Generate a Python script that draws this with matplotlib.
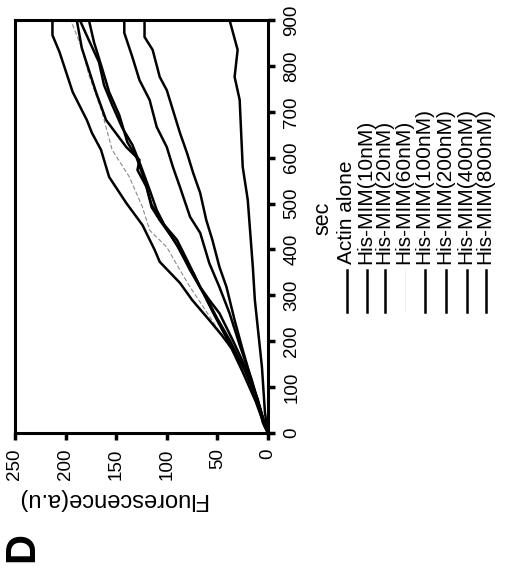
import matplotlib
matplotlib.use("Agg")
import matplotlib.pyplot as plt
from matplotlib.lines import Line2D

plt.rcParams['font.family'] = ['Liberation Sans', 'DejaVu Sans']

# ---- data (sec, fluorescence a.u.) ----
actin_sec = [0, 44, 144, 290, 362, 508, 580, 726, 776, 835, 900]
actin_flu = [0, 3, 6, 13, 15, 20, 25, 28, 33, 30, 38]

mim10_sec = [0, 39, 105, 181, 246, 318, 362, 421, 464, 523, 567, 610, 654, 704, 747, 776, 835, 863, 900]
mim10_flu = [0, 6, 15, 25, 33, 41, 48, 55, 61, 67, 74, 80, 87, 94, 100, 107, 114, 122, 122]

mim20_sec = [0, 39, 115, 192, 261, 318, 370, 436, 471, 536, 580, 623, 667, 726, 769, 819, 872, 900]
mim20_flu = [0, 6, 16, 28, 38, 48, 58, 67, 77, 87, 94, 100, 110, 117, 127, 134, 142, 142]

mim60_sec = [0, 28, 83, 155, 214, 275, 318, 355, 405, 442, 492, 558, 617, 699, 780, 839, 889, 900]
mim60_flu = [0, 5, 13, 28, 46, 64, 77, 87, 100, 117, 124, 137, 154, 164, 177, 184, 193, 195]

mim100_sec = [0, 17, 72, 137, 203, 261, 290, 318, 377, 421, 460, 497, 551, 601, 634, 693, 743, 795, 852, 900]
mim100_flu = [0, 3, 10, 21, 35, 48, 58, 67, 80, 90, 105, 115, 122, 130, 139, 147, 157, 164, 172, 177]

mim200_sec = [0, 13, 68, 133, 203, 257, 305, 355, 410, 447, 486, 530, 584, 628, 665, 715, 758, 808, 856, 900]
mim200_flu = [0, 3, 12, 25, 40, 53, 64, 77, 90, 101, 110, 117, 126, 134, 144, 154, 162, 167, 177, 186]

mim400_sec = [0, 17, 72, 137, 203, 253, 283, 318, 349, 399, 427, 464, 492, 536, 573, 595, 623, 682, 743, 839, 900]
mim400_flu = [0, 3, 11, 23, 38, 51, 58, 67, 74, 87, 95, 107, 115, 120, 129, 127, 140, 160, 170, 184, 189]

mim800_sec = [0, 22, 78, 131, 176, 214, 246, 290, 327, 373, 399, 453, 501, 558, 617, 654, 682, 743, 830, 867, 900]
mim800_flu = [0, 5, 11, 21, 33, 46, 58, 75, 87, 107, 112, 124, 140, 157, 165, 174, 179, 193, 206, 213, 213]

labels = ["Actin alone", "His-MIM(10nM)", "His-MIM(20nM)", "His-MIM(60nM)",
          "His-MIM(100nM)", "His-MIM(200nM)", "His-MIM(400nM)", "His-MIM(800nM)"]
sec_ticks = [0, 100, 200, 300, 400, 500, 600, 700, 800, 900]
flu_ticks = [0, 50, 100, 150, 200, 250]

series = [(actin_flu, actin_sec), (mim10_flu, mim10_sec), (mim20_flu, mim20_sec),
          (mim60_flu, mim60_sec), (mim100_flu, mim100_sec), (mim200_flu, mim200_sec),
          (mim400_flu, mim400_sec), (mim800_flu, mim800_sec)]

W, H = 506, 571
fig = plt.figure(figsize=(W / 100, H / 100), dpi=100)

def fx(px):
    return px / W

def fy(py):
    return 1 - py / H

ax = fig.add_axes([fx(15), fy(433), fx(268) - fx(15), fy(20) - fy(433)])

styles = []
for i in range(8):
    if i == 3:
        styles.append(dict(color='#8a8a8a', lw=0.8, ls=(0, (4, 2))))
    else:
        styles.append(dict(color='black', lw=1.8, ls='-'))

for (fl, sc), st in zip(series, styles):
    ax.plot(fl, sc, **st)

ax.set_xlim(250, 0)
ax.set_ylim(0, 900)
ax.set_xticks(flu_ticks)
ax.set_yticks(sec_ticks)
ax.yaxis.tick_right()
for s in ax.spines.values():
    s.set_linewidth(2.2)
ax.tick_params(axis='both', direction='out', length=5, width=2.5, labelsize=13.5, pad=6)
ax.tick_params(axis='x', labelrotation=90)
ax.tick_params(axis='y', labelrotation=90)
for lab in ax.get_yticklabels():
    lab.set_va('center')

# axis labels
fig.text(fx(323), fy(218), "sec", rotation=90, ha='center', va='center', fontsize=15.5)
fig.text(fx(112), fy(499), "Fluorescence(a.u)", rotation=180, ha='center', va='center', fontsize=17)
fig.text(fx(22), fy(547), "D", rotation=90, ha='center', va='center', fontsize=30, fontweight='bold')

# legend (rotated)
leg_x = [347, 367, 385, 405, 425, 446, 467, 486]
for i, (lx, lab) in enumerate(zip(leg_x, labels)):
    if i == 3:
        fig.add_artist(Line2D([fx(lx), fx(lx)], [fy(312), fy(270)], color='#e8e8e8', lw=0.5,
                              transform=fig.transFigure))
    else:
        fig.add_artist(Line2D([fx(lx), fx(lx)], [fy(312), fy(270)], color='black', lw=1.8,
                              transform=fig.transFigure))
    fig.text(fx(lx - 1), fy(264), lab, rotation=90, ha='center', va='bottom', fontsize=15)

fig.savefig("out.png", dpi=100)
